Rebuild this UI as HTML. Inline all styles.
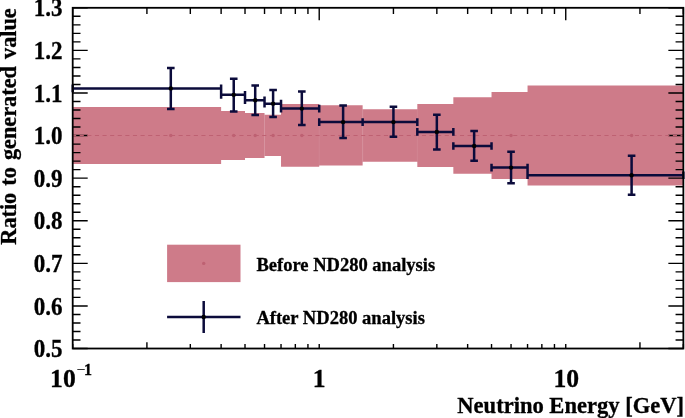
<!DOCTYPE html>
<html><head><meta charset="utf-8"><title>Ratio to generated value</title>
<style>html,body{margin:0;padding:0;background:#fff}svg{display:block}</style></head>
<body>
<svg width="685" height="418" viewBox="0 0 685 418">
<rect width="685" height="418" fill="#fff"/>
<polygon points="72.70 106.95 221.12 106.95 221.12 110.90 245.01 110.90 245.01 112.90 264.53 112.90 264.53 114.85 281.03 114.85 281.03 104.05 319.22 104.05 319.22 105.35 362.63 105.35 362.63 109.25 417.32 109.25 417.32 103.95 453.34 103.95 453.34 97.25 491.53 97.25 491.53 91.95 527.55 91.95 527.55 85.45 683.36 85.45 683.36 185.45 527.55 185.45 527.55 178.95 491.53 178.95 491.53 173.65 453.34 173.65 453.34 166.95 417.32 166.95 417.32 161.65 362.63 161.65 362.63 165.55 319.22 165.55 319.22 166.85 281.03 166.85 281.03 156.05 264.53 156.05 264.53 158.00 245.01 158.00 245.01 160.00 221.12 160.00 221.12 163.95 72.70 163.95" fill="#ce7b89"/>
<line x1="264.53" x2="264.53" y1="114.85" y2="156.05" stroke="#fff" stroke-opacity="0.28" stroke-width="0.7"/>
<line x1="362.63" x2="362.63" y1="109.25" y2="161.65" stroke="#fff" stroke-opacity="0.25" stroke-width="0.7"/>
<line x1="319.22" x2="319.22" y1="105.35" y2="165.55" stroke="#fff" stroke-opacity="0.1" stroke-width="0.7"/>
<line x1="417.32" x2="417.32" y1="109.25" y2="161.65" stroke="#fff" stroke-opacity="0.12" stroke-width="0.7"/>
<path d="M72.7 348.52h15 M683.36 348.52h-15 M72.7 340.00h7.8 M683.36 340.00h-7.8 M72.7 331.48h7.8 M683.36 331.48h-7.8 M72.7 322.97h7.8 M683.36 322.97h-7.8 M72.7 314.45h7.8 M683.36 314.45h-7.8 M72.7 305.93h15 M683.36 305.93h-15 M72.7 297.41h7.8 M683.36 297.41h-7.8 M72.7 288.89h7.8 M683.36 288.89h-7.8 M72.7 280.38h7.8 M683.36 280.38h-7.8 M72.7 271.86h7.8 M683.36 271.86h-7.8 M72.7 263.34h15 M683.36 263.34h-15 M72.7 254.82h7.8 M683.36 254.82h-7.8 M72.7 246.30h7.8 M683.36 246.30h-7.8 M72.7 237.79h7.8 M683.36 237.79h-7.8 M72.7 229.27h7.8 M683.36 229.27h-7.8 M72.7 220.75h15 M683.36 220.75h-15 M72.7 212.23h7.8 M683.36 212.23h-7.8 M72.7 203.71h7.8 M683.36 203.71h-7.8 M72.7 195.20h7.8 M683.36 195.20h-7.8 M72.7 186.68h7.8 M683.36 186.68h-7.8 M72.7 178.16h15 M683.36 178.16h-15 M72.7 169.64h7.8 M683.36 169.64h-7.8 M72.7 161.12h7.8 M683.36 161.12h-7.8 M72.7 152.61h7.8 M683.36 152.61h-7.8 M72.7 144.09h7.8 M683.36 144.09h-7.8 M72.7 135.57h15 M683.36 135.57h-15 M72.7 127.05h7.8 M683.36 127.05h-7.8 M72.7 118.53h7.8 M683.36 118.53h-7.8 M72.7 110.02h7.8 M683.36 110.02h-7.8 M72.7 101.50h7.8 M683.36 101.50h-7.8 M72.7 92.98h15 M683.36 92.98h-15 M72.7 84.46h7.8 M683.36 84.46h-7.8 M72.7 75.94h7.8 M683.36 75.94h-7.8 M72.7 67.43h7.8 M683.36 67.43h-7.8 M72.7 58.91h7.8 M683.36 58.91h-7.8 M72.7 50.39h15 M683.36 50.39h-15 M72.7 41.87h7.8 M683.36 41.87h-7.8 M72.7 33.35h7.8 M683.36 33.35h-7.8 M72.7 24.84h7.8 M683.36 24.84h-7.8 M72.7 16.32h7.8 M683.36 16.32h-7.8 M72.7 7.80h15 M683.36 7.80h-15 M72.70 348.52v-4.4 M72.70 7.8v12.4 M146.91 348.52v-6.2 M146.91 7.8v6.1 M190.32 348.52v-4.4 M190.32 7.8v6.1 M221.12 348.52v-4.4 M221.12 7.8v6.1 M245.01 348.52v-4.4 M245.01 7.8v6.1 M264.53 348.52v-4.4 M264.53 7.8v6.1 M281.03 348.52v-4.4 M281.03 7.8v6.1 M295.33 348.52v-4.4 M295.33 7.8v6.1 M307.94 348.52v-4.4 M307.94 7.8v6.1 M319.22 348.52v-4.4 M319.22 7.8v12.4 M393.43 348.52v-4.4 M393.43 7.8v6.1 M436.84 348.52v-4.4 M436.84 7.8v6.1 M467.64 348.52v-4.4 M467.64 7.8v6.1 M491.53 348.52v-4.4 M491.53 7.8v6.1 M511.05 348.52v-4.4 M511.05 7.8v6.1 M527.55 348.52v-4.4 M527.55 7.8v6.1 M541.85 348.52v-4.4 M541.85 7.8v6.1 M554.46 348.52v-4.4 M554.46 7.8v6.1 M565.74 348.52v-4.4 M565.74 7.8v12.4 M639.95 348.52v-6.2 M639.95 7.8v6.1 M683.36 348.52v-4.4 M683.36 7.8v6.1" stroke="#000" stroke-width="1.4" fill="none"/>
<line x1="72.7" y1="135.45" x2="683.36" y2="135.45" stroke="#be6172" stroke-width="1.1" stroke-dasharray="4.1 3.505" stroke-dashoffset="0.6"/>
<circle cx="170.80" cy="135.45" r="1.7" fill="#be6172"/>
<circle cx="233.73" cy="135.45" r="1.7" fill="#be6172"/>
<circle cx="255.21" cy="135.45" r="1.7" fill="#be6172"/>
<circle cx="273.10" cy="135.45" r="1.7" fill="#be6172"/>
<circle cx="301.82" cy="135.45" r="1.7" fill="#be6172"/>
<circle cx="343.11" cy="135.45" r="1.7" fill="#be6172"/>
<circle cx="393.43" cy="135.45" r="1.7" fill="#be6172"/>
<circle cx="436.84" cy="135.45" r="1.7" fill="#be6172"/>
<circle cx="474.13" cy="135.45" r="1.7" fill="#be6172"/>
<circle cx="511.05" cy="135.45" r="1.7" fill="#be6172"/>
<circle cx="631.60" cy="135.45" r="1.7" fill="#be6172"/>
<path d="M72.70 88.4H221.12M170.80 67.9V109.0M167.00 67.9h7.6M167.00 109.0h7.6M72.70 84.60000000000001v7.6M221.12 84.60000000000001v7.6 M221.12 94.85H245.01M233.73 78.7V111.4M229.93 78.7h7.6M229.93 111.4h7.6M221.12 91.05v7.6M245.01 91.05v7.6 M245.01 100.2H264.53M255.21 85.5V115.0M251.41 85.5h7.6M251.41 115.0h7.6M245.01 96.4v7.6M264.53 96.4v7.6 M264.53 103.65H281.03M273.10 90.1V116.9M269.30 90.1h7.6M269.30 116.9h7.6M264.53 99.85000000000001v7.6M281.03 99.85000000000001v7.6 M281.03 108.6H319.22M301.82 91.6V125.1M298.02 91.6h7.6M298.02 125.1h7.6M281.03 104.8v7.6M319.22 104.8v7.6 M319.22 122.1H362.63M343.11 105.6V137.9M339.31 105.6h7.6M339.31 137.9h7.6M319.22 118.3v7.6M362.63 118.3v7.6 M362.63 122.1H417.32M393.43 106.8V136.7M389.63 106.8h7.6M389.63 136.7h7.6M362.63 118.3v7.6M417.32 118.3v7.6 M417.32 131.9H453.34M436.84 114.7V149.4M433.04 114.7h7.6M433.04 149.4h7.6M417.32 128.1v7.6M453.34 128.1v7.6 M453.34 146.0H491.53M474.13 130.9V160.7M470.33 130.9h7.6M470.33 160.7h7.6M453.34 142.2v7.6M491.53 142.2v7.6 M491.53 167.6H527.55M511.05 151.8V183.3M507.25 151.8h7.6M507.25 183.3h7.6M491.53 163.79999999999998v7.6M527.55 163.79999999999998v7.6 M527.55 175.3H683.36M631.60 155.8V194.7M627.80 155.8h7.6M627.80 194.7h7.6M527.55 171.5v7.6M683.36 171.5v7.6" stroke="#0b0b3b" stroke-width="2.5" fill="none"/>
<circle cx="170.80" cy="88.4" r="2.2" fill="#000"/>
<circle cx="233.73" cy="94.85" r="2.2" fill="#000"/>
<circle cx="255.21" cy="100.2" r="2.2" fill="#000"/>
<circle cx="273.10" cy="103.65" r="2.2" fill="#000"/>
<circle cx="301.82" cy="108.6" r="2.2" fill="#000"/>
<circle cx="343.11" cy="122.1" r="2.2" fill="#000"/>
<circle cx="393.43" cy="122.1" r="2.2" fill="#000"/>
<circle cx="436.84" cy="131.9" r="2.2" fill="#000"/>
<circle cx="474.13" cy="146.0" r="2.2" fill="#000"/>
<circle cx="511.05" cy="167.6" r="2.2" fill="#000"/>
<circle cx="631.60" cy="175.3" r="2.2" fill="#000"/>
<rect x="72.7" y="7.8" width="610.66" height="340.72" fill="none" stroke="#000" stroke-width="1.8"/>
<rect x="167.1" y="244.7" width="73.4" height="37.4" fill="#ce7b89"/>
<circle cx="203.7" cy="263.4" r="1.7" fill="#be6172"/>
<path d="M167.1 317.0H240.5M203.7 301V333" stroke="#0b0b3b" stroke-width="2.5" fill="none"/>
<circle cx="203.7" cy="317.0" r="2.2" fill="#000"/>
<text x="256.4" y="271.3" font-size="18.55" font-family="Liberation Serif, serif" font-weight="bold" fill="#000" stroke="#000" stroke-width="0.3">Before ND280 analysis</text>
<text x="256.4" y="324.1" font-size="18.55" font-family="Liberation Serif, serif" font-weight="bold" fill="#000" stroke="#000" stroke-width="0.3">After ND280 analysis</text>
<text transform="translate(62.5 357.12) scale(0.96 1.012)" font-size="24" text-anchor="end" font-family="Liberation Serif, serif" font-weight="bold" fill="#000" stroke="#000" stroke-width="0.3">0.5</text>
<text transform="translate(62.5 314.53) scale(0.96 1.012)" font-size="24" text-anchor="end" font-family="Liberation Serif, serif" font-weight="bold" fill="#000" stroke="#000" stroke-width="0.3">0.6</text>
<text transform="translate(62.5 271.94) scale(0.96 1.012)" font-size="24" text-anchor="end" font-family="Liberation Serif, serif" font-weight="bold" fill="#000" stroke="#000" stroke-width="0.3">0.7</text>
<text transform="translate(62.5 229.35) scale(0.96 1.012)" font-size="24" text-anchor="end" font-family="Liberation Serif, serif" font-weight="bold" fill="#000" stroke="#000" stroke-width="0.3">0.8</text>
<text transform="translate(62.5 186.76) scale(0.96 1.012)" font-size="24" text-anchor="end" font-family="Liberation Serif, serif" font-weight="bold" fill="#000" stroke="#000" stroke-width="0.3">0.9</text>
<text transform="translate(62.5 144.17) scale(0.96 1.012)" font-size="24" text-anchor="end" font-family="Liberation Serif, serif" font-weight="bold" fill="#000" stroke="#000" stroke-width="0.3">1.0</text>
<text transform="translate(62.5 101.58) scale(0.96 1.012)" font-size="24" text-anchor="end" font-family="Liberation Serif, serif" font-weight="bold" fill="#000" stroke="#000" stroke-width="0.3">1.1</text>
<text transform="translate(62.5 58.99) scale(0.96 1.012)" font-size="24" text-anchor="end" font-family="Liberation Serif, serif" font-weight="bold" fill="#000" stroke="#000" stroke-width="0.3">1.2</text>
<text transform="translate(62.5 16.40) scale(0.96 1.012)" font-size="24" text-anchor="end" font-family="Liberation Serif, serif" font-weight="bold" fill="#000" stroke="#000" stroke-width="0.3">1.3</text>
<text transform="translate(319.2 386.8) scale(1.069 1.068)" font-size="24" text-anchor="middle" font-family="Liberation Serif, serif" font-weight="bold" fill="#000" stroke="#000" stroke-width="0.3">1</text>
<text transform="translate(566.3 386.8) scale(1.069 1.068)" font-size="24" text-anchor="middle" font-family="Liberation Serif, serif" font-weight="bold" fill="#000" stroke="#000" stroke-width="0.3">10</text>
<text transform="translate(50.1 386.7) scale(1.069 1.09)" font-size="24" font-family="Liberation Serif, serif" font-weight="bold" fill="#000" stroke="#000" stroke-width="0.3">10</text>
<text transform="translate(76.5 374.6) scale(1.069 1.068)" font-size="15" font-family="Liberation Serif, serif" font-weight="bold" fill="#000" stroke="#000" stroke-width="0.3"><tspan font-weight="normal" stroke="none">−</tspan><tspan dx="-1.4">1</tspan></text>
<text x="684" y="412.6" font-size="22.56" text-anchor="end" font-family="Liberation Serif, serif" font-weight="bold" fill="#000" stroke="#000" stroke-width="0.3">Neutrino Energy [GeV]</text>
<text transform="translate(15.8 8.3) rotate(-90)" font-size="22.25" word-spacing="1.55" text-anchor="end" font-family="Liberation Serif, serif" font-weight="bold" fill="#000" stroke="#000" stroke-width="0.3">Ratio to generated value</text>
</svg>
</body></html>
